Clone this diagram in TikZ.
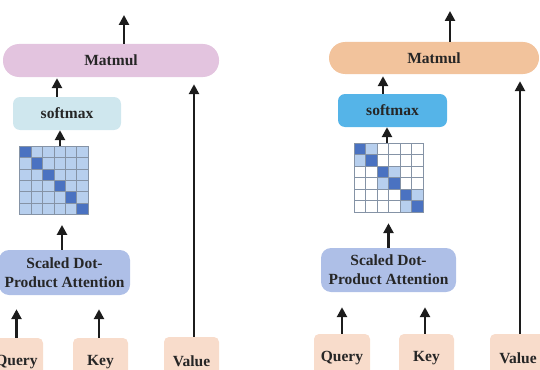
\documentclass[tikz,border=0pt]{standalone}
\usepackage{fontspec}
\setmainfont{Liberation Serif}
\usetikzlibrary{arrows.meta}
\definecolor{mmpink}{HTML}{E3C4DF}
\definecolor{mmorange}{HTML}{F2C39C}
\definecolor{smcyan}{HTML}{CFE7EE}
\definecolor{smblue}{HTML}{55B4E8}
\definecolor{sdpablue}{HTML}{AEBFE7}
\definecolor{inpeach}{HTML}{F8DCCB}
\definecolor{ltblue}{HTML}{B7CFEE}
\definecolor{dkblue}{HTML}{4A72C1}
\definecolor{gridgray}{HTML}{8593A6}
\definecolor{txtgray}{HTML}{262626}
\definecolor{arrblack}{HTML}{1C1C1C}
\begin{document}
\begin{tikzpicture}[x=1pt,y=-1pt, every node/.style={font=\fontsize{15.5}{19}\selectfont\bfseries,text=txtgray},
  box/.style={fill=#1,rounded corners=6pt,align=center,inner sep=0pt},
  arr/.style={-{Triangle[length=10pt,width=10pt]},line width=2.8pt,draw=arrblack},
  cell/.style={draw=gridgray,line width=0.6pt,fill=#1}]
\clip (0,0) rectangle (540,369);
% left: full attention
\node[box=mmpink,rounded corners=16pt,minimum width=216,minimum height=33] (mmL) at (111,60.5) {Matmul};
\node[box=smcyan,rounded corners=7pt,minimum width=108,minimum height=33] (smL) at (67,113.5) {softmax};
\node[minimum width=68.5,minimum height=68.5,inner sep=0pt] (attL) at (54,180.5) {};
\node[box=sdpablue,rounded corners=10pt,minimum width=131,minimum height=45] (sdpaL) at (64.5,272.5) {Scaled Dot-\\Product Attention};
\node[box=inpeach,rounded corners=5pt,minimum width=53,minimum height=48] (qL) at (16.5,362) {Query};
\node[box=inpeach,rounded corners=5pt,minimum width=55,minimum height=48] (kL) at (100.5,362) {Key};
\node[box=inpeach,rounded corners=5pt,minimum width=55,minimum height=48] (vL) at (191.5,361) {Value};
\coordinate (outL) at (124,15);
\foreach \r in {0,...,5}{\foreach \c in {0,...,5}{
  \ifnum\r=\c \def\cc{dkblue}\else\def\cc{ltblue}\fi
  \draw[cell=\cc] ([shift={(\c*11.42,\r*11.42)}]attL.north west) rectangle ++(11.42,11.42);
}}
\draw[arr] (outL |- mmL.north) -- (outL);
\draw[arr,shorten >=1pt] ([xshift=-10pt]smL.north) -- ([xshift=-10pt]smL.north |- mmL.south);
\draw[arr] ([xshift=6pt]attL.north) -- ([xshift=6pt]attL.north |- smL.south);
\draw[arr,shorten >=10pt] ([xshift=-2.5pt]sdpaL.north) -- ([xshift=-2.5pt]sdpaL.north |- attL.south);
\draw[arr,shorten >=14pt] (qL.north) -- (qL.north |- sdpaL.south);
\draw[arr,shorten >=14pt] ([xshift=-1.5pt]kL.north) -- ([xshift=-1.5pt]kL.north |- sdpaL.south);
\draw[arr,shorten >=7pt] ([xshift=2.5pt]vL.north) -- ([xshift=2.5pt]vL.north |- mmL.south);
% right: masked attention
\node[box=mmorange,rounded corners=16pt,minimum width=210,minimum height=32] (mmR) at (434,58) {Matmul};
\node[box=smblue,rounded corners=7pt,minimum width=109,minimum height=33] (smR) at (392.5,110.5) {softmax};
\node[minimum width=69,minimum height=69,inner sep=0pt] (attR) at (388.5,177.5) {};
\node[box=sdpablue,rounded corners=10pt,minimum width=135,minimum height=44] (sdpaR) at (388.5,270) {Scaled Dot-\\Product Attention};
\node[box=inpeach,rounded corners=5pt,minimum width=56,minimum height=48] (qR) at (342,358) {Query};
\node[box=inpeach,rounded corners=5pt,minimum width=55,minimum height=48] (kR) at (426.5,358) {Key};
\node[box=inpeach,rounded corners=5pt,minimum width=56,minimum height=48] (vR) at (518,358) {Value};
\coordinate (outR) at (450,11);
\foreach \r in {0,...,5}{\foreach \c in {0,...,5}{
  \pgfmathtruncatemacro\br{\r/2}\pgfmathtruncatemacro\bc{\c/2}
  \ifnum\r=\c \def\cc{dkblue}\else\ifnum\br=\bc \def\cc{ltblue}\else\def\cc{white}\fi\fi
  \draw[cell=\cc] ([shift={(\c*11.5,\r*11.5)}]attR.north west) rectangle ++(11.5,11.5);
}}
\draw[arr] (outR |- mmR.north) -- (outR);
\draw[arr,shorten >=2pt] ([xshift=-9.5pt]smR.north) -- ([xshift=-9.5pt]smR.north |- mmR.south);
\draw[arr] ([xshift=-1.5pt]attR.north) -- ([xshift=-1.5pt]attR.north |- smR.south);
\draw[arr,shorten >=11pt] (sdpaR.north) -- (sdpaR.north |- attR.south);
\draw[arr,shorten >=15pt] (qR.north) -- (qR.north |- sdpaR.south);
\draw[arr,shorten >=15pt] ([xshift=-1.5pt]kR.north) -- ([xshift=-1.5pt]kR.north |- sdpaR.south);
\draw[arr,shorten >=7pt] ([xshift=2pt]vR.north) -- ([xshift=2pt]vR.north |- mmR.south);
\end{tikzpicture}
\end{document}
